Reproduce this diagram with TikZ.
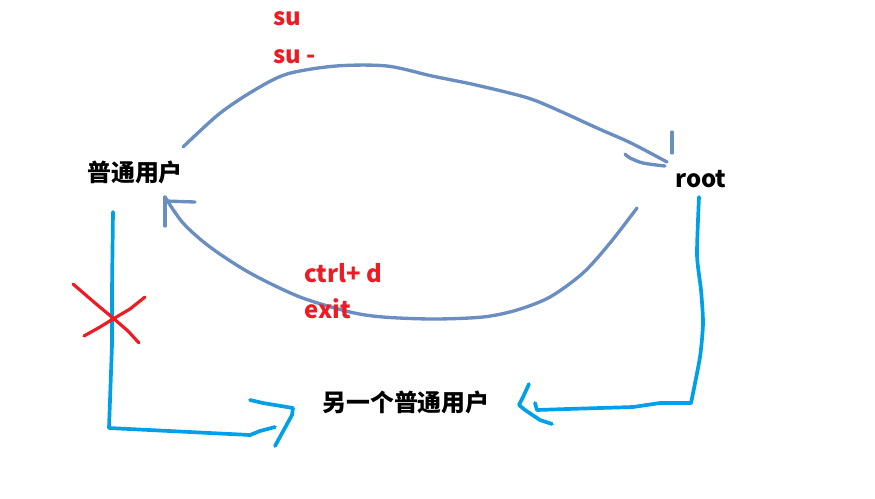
\documentclass[tikz,border=0pt]{standalone}
\usepackage{fontspec}
\setmainfont{Noto Sans CJK SC}
\usepackage{tikz}
\usetikzlibrary{positioning}
\definecolor{arcblue}{RGB}{107,142,194}
\definecolor{lineblue}{RGB}{0,160,233}
\definecolor{markred}{RGB}{237,28,36}
\tikzset{
    % Text styles
    user/.style={font=\fontsize{13.6}{16}\selectfont\bfseries, inner sep=0pt, anchor=base},
    cmd/.style={user, text=markred, anchor=base west},
    % Stroke styles
    switch/.style={draw=arcblue, line width=1.9pt, line cap=round, line join=round},
    path line/.style={draw=lineblue, line width=2.1pt, line cap=round, line join=round},
    cross/.style={draw=markred, line width=1.8pt, line cap=round, line join=round},
}

\begin{document}
\begin{tikzpicture}[x=0.02cm, y=-0.02cm]
    \useasboundingbox (0,0) rectangle (875,498);

    % Users
    \node[user] (normal) at (135,181) {普通用户};
    \node[user] (root) at (701,187) {root};
    \node[user] (other) at (406,411) {另一个普通用户};

    % normal -> root
    \coordinate (su tail) at (183,147);
    \coordinate (su tip) at (667,162);
    \draw[switch] plot[smooth, tension=0.5] coordinates {(su tail) (219,114) (253,91)
        (287,74) (336,66) (387,66) (432,76) (476,85) (528,98) (562,112) (597,128)
        (631,143) (su tip)};
    \draw[switch] (su tip) ++(5,-30) -- ++(0,21);
    \draw[switch] plot[smooth] coordinates {(625,154) (630,158) (643,163) (665,166)};

    % root -> normal
    \coordinate (exit tail) at (637,208);
    \coordinate (exit tip) at (165,197);
    \draw[switch] plot[smooth, tension=0.5] coordinates {(exit tail) (610,243) (583,273)
        (550,297) (517,310) (483,317) (433,319) (383,317) (350,312) (300,297)
        (250,273) (210,247) (183,223) (exit tip)};
    \draw[switch] (exit tip) -- ++(0,29);
    \draw[switch] (exit tip) ++(0,4) -- ++(30,1);

    % Commands
    \node[cmd] (su) at (273,25) {su};
    \node[cmd] (sudash) at (273,63) {su -};
    \node[cmd] (ctrld) at (304,282) {ctrl+ d};
    \node[cmd] (exit) at (304,318) {exit};

    % normal -> other (not allowed)
    \coordinate (left corner) at (109,428);
    \draw[path line] (113,212) -- (112,290) -- (112,345) -- (left corner) -- (250,435)
        -- (260,431) -- (275,427);
    \draw[path line] (250,400) -- (263,403) -- (293,408) -- (292,415) -- (275,446);
    \draw[cross] (73,284) -- (95,303) -- (113,318) -- (128,331) -- (139,343);
    \draw[cross] (84,336) -- (100,327) -- (113,319) -- (130,309) -- (145,297);

    % root -> other
    \coordinate (right corner) at (691,403);
    \draw[path line] plot[smooth, tension=0.4] coordinates {(699,197) (697,255)
        (701,290) (703,323) (700,357) (right corner)};
    \draw[path line] (right corner) -- (660,403) -- (633,407) -- (567,409) -- (537,410)
        -- (535,403);
    \draw[path line] (529,384) -- (523,397) -- (519,405) -- (525,410) -- (540,420)
        -- (552,424);
\end{tikzpicture}
\end{document}
